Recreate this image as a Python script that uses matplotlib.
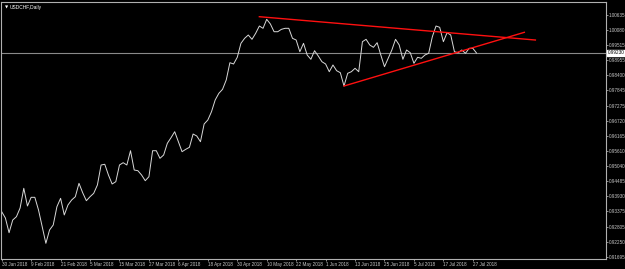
import matplotlib
import matplotlib.pyplot as plt

matplotlib.use("Agg")

# Cours de cloture USDCHF (journalier), un point par seance a partir du 30 Jan 2018
closes = [
    0.93361, 0.93128, 0.92584, 0.93054, 0.93176, 0.93497, 0.94226, 0.93571,
    0.93893, 0.93893, 0.93424, 0.92806, 0.92192, 0.92684, 0.92869, 0.93545,
    0.93856, 0.93239, 0.93608, 0.93793, 0.93915, 0.94411, 0.94063, 0.93767,
    0.93915, 0.94041, 0.94348, 0.95088, 0.95114, 0.94718, 0.94385, 0.94470,
    0.95088, 0.95173, 0.95088, 0.95616, 0.94903, 0.94877, 0.94718, 0.94507,
    0.94655, 0.95616, 0.95616, 0.95335, 0.95458, 0.95890, 0.96097, 0.96319,
    0.95949, 0.95580, 0.95668, 0.95742, 0.96234, 0.96160, 0.95949, 0.96604,
    0.96752, 0.97059, 0.97492, 0.97739, 0.97887, 0.98231, 0.98871, 0.98823,
    0.99071, 0.99588, 0.99773, 0.99895, 0.99736, 0.99958, 1.00228, 1.00143,
    1.00476, 1.00302, 1.00017, 1.00017, 1.00106, 1.00143, 1.00143, 0.99773,
    0.99710, 0.99278, 0.99588, 0.99156, 0.98997, 0.99315, 0.99119, 0.98908,
    0.98823, 0.98538, 0.98786, 0.98575, 0.98501, 0.98009, 0.98479, 0.98538,
    0.98664, 0.98538, 0.99648, 0.99736, 0.99526, 0.99440, 0.99611, 0.99156,
    0.98723, 0.99034, 0.99341, 0.99736, 0.99526, 0.98997, 0.99341, 0.99241,
    0.98849, 0.99071, 0.99034, 0.99156, 0.99219, 0.99832, 1.00228, 1.00180,
    0.99648, 0.99980, 0.99895, 0.99278, 0.99241, 0.99341, 0.99219, 0.99403,
    0.99403, 0.99230,
]

# Lignes de tendance (index de seance, prix)
trend_upper_x = [70, 145]
trend_upper_y = [1.00572, 0.99710]
trend_lower_x = [93, 142]
trend_lower_y = [0.98009, 0.99995]

# Echelle des prix (axe de droite)
price_ticks = [
    1.00635, 1.00080, 0.99515, 0.98955, 0.98400, 0.97845, 0.97275, 0.96720,
    0.96165, 0.95610, 0.95040, 0.94485, 0.93930, 0.93375, 0.92805, 0.92250,
    0.91695,
]

# Etiquettes de dates, une toutes les 8 seances
date_labels = [
    "30 Jan 2018", "9 Feb 2018", "21 Feb 2018", "5 Mar 2018", "15 Mar 2018",
    "27 Mar 2018", "6 Apr 2018", "18 Apr 2018", "30 Apr 2018", "10 May 2018",
    "22 May 2018", "1 Jun 2018", "13 Jun 2018", "25 Jun 2018", "5 Jul 2018",
    "17 Jul 2018", "27 Jul 2018",
]
date_step = 8

bg = "black"
fg = "#c8c8c8"
font = ["Liberation Sans", "DejaVu Sans"]

fig = plt.figure(figsize=(6.25, 2.69), dpi=100, facecolor=bg)
ax = fig.add_axes([1 / 625, 10.5 / 269, 604.7 / 625, 256.5 / 269], facecolor=bg)

x = list(range(len(closes)))
ax.plot(x, closes, color="#d8d8d8", lw=0.7)

# Ligne du prix courant
last = closes[-1]
ax.axhline(last, color="#8a8a8a", lw=0.8, zorder=1)

ax.plot(trend_upper_x, trend_upper_y, color="#ff1010", lw=1.0)
ax.plot(trend_lower_x, trend_lower_y, color="#ff1010", lw=1.0)

ax.set_xlim(-0.19, 164.1)
ax.set_ylim(0.91630, 1.01116)

for side in ["left", "top", "right", "bottom"]:
    ax.spines[side].set_color("#b0b0b0")
    ax.spines[side].set_linewidth(0.8)

ax.yaxis.tick_right()
ax.set_yticks(price_ticks)
ax.set_yticklabels([f"{v:.5f}" for v in price_ticks])
ax.tick_params(axis="y", colors=fg, labelsize=3.3, length=1.5, width=0.5, pad=1)

ax.set_xticks([i * date_step for i in range(len(date_labels))])
ax.set_xticklabels(date_labels, ha="left")
ax.tick_params(axis="x", colors=fg, labelsize=3.3, length=1.5, width=0.5, pad=1)

for lab in ax.get_xticklabels() + ax.get_yticklabels():
    lab.set_family(font)

# Etiquette du prix courant
ax.annotate(
    f"{last:.5f}", xy=(1, last), xycoords=("axes fraction", "data"),
    xytext=(1.5, 0), textcoords="offset points", ha="left", va="center",
    fontsize=3.3, family=font, color="black",
    bbox=dict(boxstyle="square,pad=0.15", fc="white", ec="white"),
)

ax.text(0.006, 0.985, "\u25bc", transform=ax.transAxes, fontsize=3,
        color="white", va="top", ha="left", family=["DejaVu Sans"])
ax.text(0.014, 0.99, "USDCHF,Daily", transform=ax.transAxes, fontsize=3.5,
        color="white", va="top", ha="left", family=font)

fig.savefig("out.png", dpi=100, facecolor=bg)
plt.close(fig)
